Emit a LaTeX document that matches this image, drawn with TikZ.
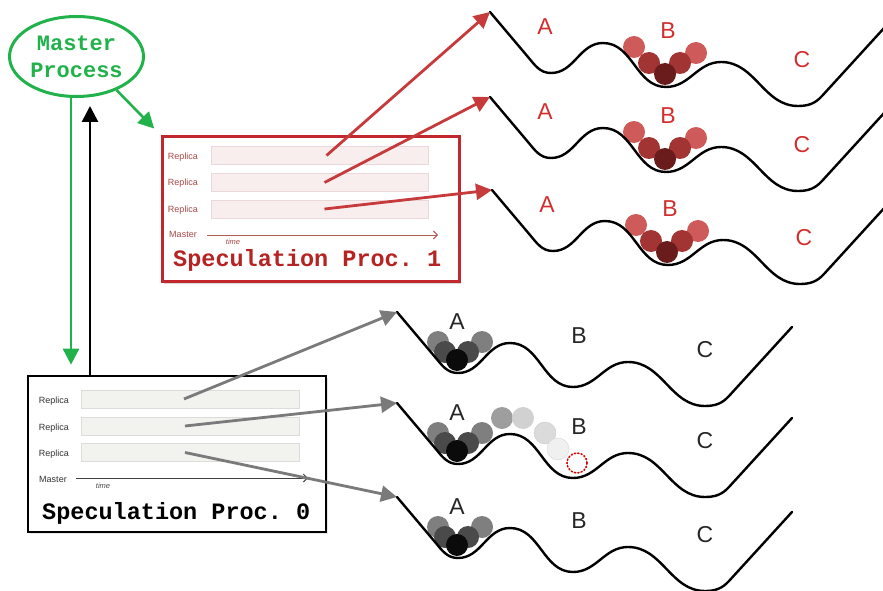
\documentclass[tikz,border=0pt]{standalone}
\usepackage{fontspec}
\setmainfont{Liberation Sans}
\setmonofont{Liberation Mono}
\usetikzlibrary{arrows.meta,shapes.geometric,shadows}

\definecolor{mpgreen}{HTML}{22B24C}
\definecolor{boxred}{HTML}{C1272D}
\definecolor{arrowred}{HTML}{C63A3C}
\definecolor{letterred}{HTML}{D22E2E}
\definecolor{titlered}{HTML}{B52323}
\definecolor{labelred}{HTML}{A84848}
\definecolor{barred}{HTML}{F8EEEE}
\definecolor{barredline}{HTML}{EBD9D9}
\definecolor{bargray}{HTML}{F2F2EF}
\definecolor{bargrayline}{HTML}{DCDCD8}
\definecolor{arrowgray}{HTML}{7A7A7A}
\definecolor{ballRa}{HTML}{CF5A5A}
\definecolor{ballRb}{HTML}{A33434}
\definecolor{ballRc}{HTML}{6A1C1C}
\definecolor{ballGa}{HTML}{7F7F7F}
\definecolor{ballGb}{HTML}{4A4A4A}
\definecolor{ballGc}{HTML}{0B0B0B}

\tikzset{
  curve/.style={line width=2.4pt, black, line cap=round, line join=round},
  rletter/.style={text=letterred, inner sep=0, font=\fontsize{23}{23}\selectfont},
  gletter/.style={text=black!85, inner sep=0, font=\fontsize{23}{23}\selectfont},
  wellcurve/.style={insert path={(0,0) -- (38,45) to[out=-50,in=180] (61,61)
      to[out=0,in=180] (113,31) to[out=0,in=180] (176,75)
      to[out=0,in=180] (231,50) to[out=0,in=180] (308,94)
      to[out=0,in=-132] (332,84) -- (395,15)}},
  % energy landscape with the red walkers sitting in basin B
  redwell/.pic={
    \foreach \px/\py in {144/35,206/41} \fill[ballRa] (\px,\py) circle[radius=11];
    \foreach \px/\py in {159/51,190/51} \fill[ballRb] (\px,\py) circle[radius=11];
    \fill[ballRc] (175,62) circle[radius=11];
    \path[draw, curve, wellcurve];
    \node[rletter] (-A) at (55,15) {A};
    \node[rletter] (-B) at (178,19) {B};
    \node[rletter] (-C) at (312,48) {C};
  },
  % energy landscape with the gray walkers sitting in basin A
  graywell/.pic={
    \foreach \px/\py in {41/30,85/30} \fill[ballGa] (\px,\py) circle[radius=11];
    \foreach \px/\py in {48/40,71/40} \fill[ballGb] (\px,\py) circle[radius=11];
    \fill[ballGc] (60,48) circle[radius=11];
    \path[draw, curve, wellcurve];
    \node[gletter] (-A) at (60,10) {A};
    \node[gletter] (-B) at (182,24) {B};
    \node[gletter] (-C) at (308,38) {C};
  },
  tip/.style={-{Triangle[length=16pt,width=16pt]}},
  garrow/.style={draw=mpgreen, line width=2.6pt, tip},
  karrow/.style={draw=black, line width=2.6pt, tip},
  redarrow/.style={draw=arrowred, line width=2.8pt, tip},
  grayarrow/.style={draw=arrowgray, line width=2.8pt, tip},
  rbar/.style={draw=barredline, fill=barred, line width=0.6pt, minimum width=217pt, minimum height=18pt, inner sep=0},
  gbar/.style={draw=bargrayline, fill=bargray, line width=0.6pt, minimum width=218pt, minimum height=18pt, inner sep=0},
  rlabel/.style={text=labelred, inner sep=0, font=\fontsize{9}{9}\selectfont},
  glabel/.style={text=black!80, inner sep=0, font=\fontsize{9}{9}\selectfont},
  timelabel/.style={inner sep=0, font=\itshape\fontsize{7.5}{7.5}\selectfont},
  title/.style={anchor=base west, inner sep=0, font=\ttfamily\bfseries\fontsize{23.5}{24}\selectfont},
}

\begin{document}
\begin{tikzpicture}[x=1pt,y=-1pt]
\useasboundingbox (0,0) rectangle (883,591);

% starting points of the six landscapes
\coordinate (s1) at (490,12);
\coordinate (s2) at (490,97);
\coordinate (s3) at (492,190);
\coordinate (g1) at (397,312);
\coordinate (g2) at (397,403);
\coordinate (g3) at (397,497);

\pic (rw1) at (s1) {redwell};
\pic (rw2) at (s2) {redwell};
\pic (rw3) at (s3) {redwell};
\pic (gw1) at (g1) {graywell};
\pic (gw3) at (g3) {graywell};

% second gray landscape: walkers escaping from A towards B
\fill[black!38] (502,418) circle[radius=11];
\fill[black!18] (523,418) circle[radius=11];
\filldraw[fill=black!14, draw=black!20, line width=0.4pt] (545,433) circle[radius=11];
\filldraw[fill=black!6, draw=black!16, line width=0.4pt] (558,449) circle[radius=11];
\pic (gw2) at (g2) {graywell};
\draw[red!85!black, line width=1.6pt, dash pattern=on 1.2pt off 2.2pt, line cap=round] (577,463) circle[radius=10];

% master process
\node[ellipse, draw=mpgreen, line width=3pt, minimum width=134pt, minimum height=80pt,
      inner sep=0, align=center, text=mpgreen,
      font=\ttfamily\bfseries\fontsize{22}{27}\selectfont] (mp) at (76.5,56.5) {Master\\Process};

% speculation process 1
\node[draw=boxred, line width=3pt, fill=white, minimum width=297pt, minimum height=145pt,
      drop shadow={opacity=0.3, shadow xshift=1.5pt, shadow yshift=-2pt}] (box1) at (310.5,209) {};
\node[rbar] (r1bar) at (319.5,155.5) {};
\node[rbar] (r2bar) at (319.5,182.5) {};
\node[rbar] (r3bar) at (319.5,209) {};
\node[rlabel] (r1lab) at (183,157) {Replica};
\node[rlabel] (r2lab) at (183,183.5) {Replica};
\node[rlabel] (r3lab) at (183,210) {Replica};
\node[rlabel] (rmaster) at (183,234) {Master};
\coordinate (rtimeend) at (438,235);
\draw[draw=labelred!90, line width=1pt, -{Straight Barb[length=4pt,width=8pt]}]
  ([xshift=10pt]rmaster.east |- rtimeend) -- (rtimeend);
\node[timelabel, text=labelred] (rtime) at (233,242) {time};
\node[title, text=titlered] (t1) at (173,266.5) {Speculation Proc. 1};

% speculation process 0
\node[draw=black, line width=2.6pt, fill=white, minimum width=298pt, minimum height=156pt,
      drop shadow={opacity=0.2, shadow xshift=1.5pt, shadow yshift=-2pt}] (box0) at (177,454) {};
\node[gbar] (q1bar) at (190,399) {};
\node[gbar] (q2bar) at (190,426) {};
\node[gbar] (q3bar) at (190,452.5) {};
\node[glabel] (q1lab) at (54,401) {Replica};
\node[glabel] (q2lab) at (54,428) {Replica};
\node[glabel] (q3lab) at (54,454) {Replica};
\node[glabel] (qmaster) at (53,479) {Master};
\coordinate (qtimeend) at (308,478);
\draw[draw=black!75, line width=1pt, -{Straight Barb[length=4pt,width=8pt]}]
  ([xshift=9pt]qmaster.east |- qtimeend) -- (qtimeend);
\node[timelabel, text=black!70] (qtime) at (103,486) {time};
\node[title, text=black] (t0) at (42,519) {Speculation Proc. 0};

% replicas launched onto the landscapes
\draw[redarrow] ([xshift=7pt]r1bar.center) -- (s1);
\draw[redarrow] ([xshift=5pt]r2bar.center) -- (s2);
\draw[redarrow] ([xshift=5pt]r3bar.center) -- (s3);
\draw[grayarrow] ([xshift=-6pt]q1bar.center) -- (g1);
\draw[grayarrow] ([xshift=-5pt]q2bar.center) -- (g2);
\draw[grayarrow] ([xshift=-5pt]q3bar.center) -- (g3);

% communication with the master process
\draw[garrow, shorten >=9pt] (mp.-40) -- (box1.north west);
\draw[garrow, shorten >=10pt] (mp.south -| 71,0) -- (box0.north -| 71,0);
\draw[karrow, shorten >=8pt] (box0.north -| 90,0) -- (mp.south -| 90,0);
\end{tikzpicture}
\end{document}
